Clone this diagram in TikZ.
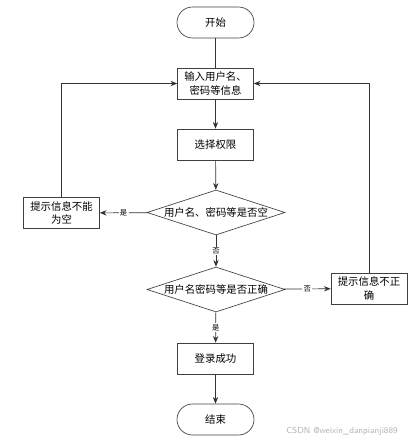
\documentclass[tikz,border=0pt]{standalone}
\usepackage{fontspec}
\newfontfamily\cjk{Noto Sans CJK SC}
\usetikzlibrary{shapes.geometric,arrows.meta}
\begin{document}
\begin{tikzpicture}[x=0.75pt,y=-0.75pt,
  every node/.style={font=\cjk\fontsize{7.8}{10}\selectfont},
  proc/.style={draw=black!75,line width=0.5pt,minimum width=76*0.75pt,minimum height=31*0.75pt,inner sep=1pt,align=center,text width=70*0.75pt},
  term/.style={draw=black!75,line width=0.5pt,rounded corners=15.5*0.75pt,minimum width=77*0.75pt,minimum height=31*0.75pt},
  dec/.style={draw=black!75,line width=0.5pt,diamond,aspect=3.07,minimum width=138*0.75pt,minimum height=45*0.75pt,inner sep=0pt},
  conn/.style={draw=black!80,line width=0.5pt},
  arr/.style={conn,-{Stealth[length=5pt,width=4pt]}},
  lbl/.style={fill=white,inner sep=1pt,font=\cjk\fontsize{5.5}{6}\selectfont}]
\useasboundingbox (0,0) rectangle (411,442);
\node[term] (start) at (215.5,22.5) {开始};
\node[proc] (input) at (215.5,83.5) {输入用户名、\\密码等信息};
\node[proc] (perm) at (215.5,144.5) {选择权限};
\node[dec] (d1) at (216,212.5) {用户名、密码等是否空};
\node[proc] (empty) at (61.5,213) {提示信息不能\\为空};
\node[dec] (d2) at (216,289.5) {用户名密码等是否正确};
\node[proc] (wrong) at (369,288.5) {提示信息不正\\确};
\node[proc] (ok) at (215.5,358.5) {登录成功};
\node[term] (end) at (215.5,419.5) {结束};
\node[font=\fontsize{6.5}{8}\selectfont\sffamily,text=black!30,anchor=west,inner sep=0pt] (wm) at (286,431) {CSDN @weixin\_danpianji889};

\draw[conn] (start) -- (input);
\draw[arr] (input) -- (perm);
\draw[arr] (perm) -- (d1);
\draw[arr] (d1) -- node[lbl]{否} (d2);
\draw[arr] (d1) -- node[lbl,pos=0.5]{是} (empty);
\draw[arr] (d2) -- node[lbl,pos=0.5]{否} (wrong);
\draw[arr] (d2) -- node[lbl,pos=0.5]{是} (ok);
\draw[arr] (ok) -- (end);
\draw[arr] (empty.north) |- (input.west);
\draw[arr] (wrong.north) |- (input.east);
\end{tikzpicture}
\end{document}
